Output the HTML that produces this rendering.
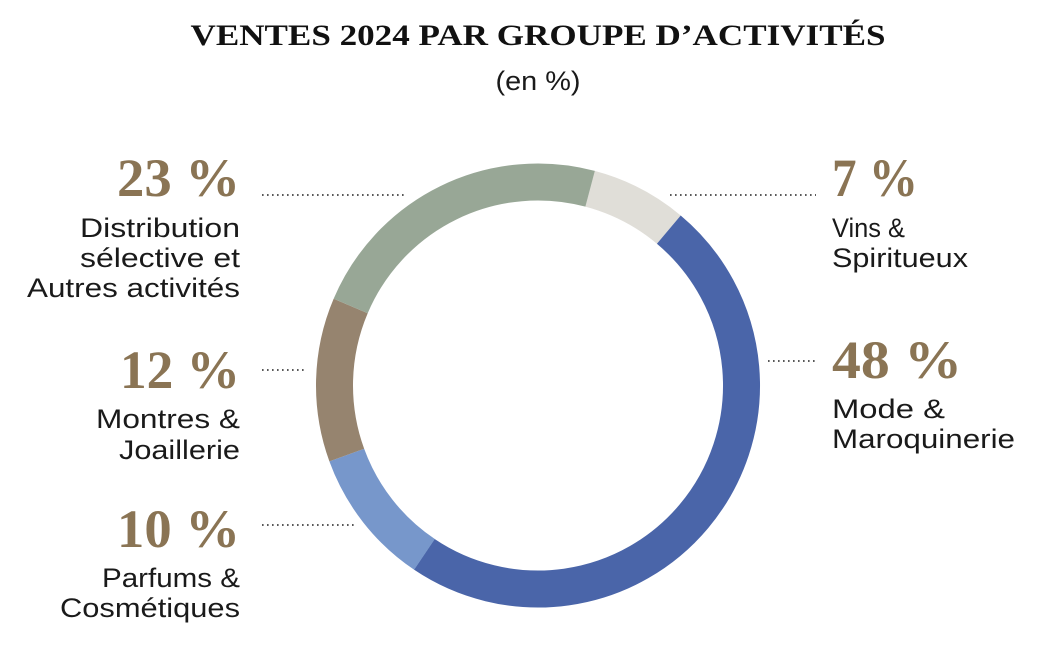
<!DOCTYPE html>
<html><head><meta charset="utf-8"><style>
html,body{margin:0;padding:0;background:#fff;}
svg{display:block;}
.t{font-family:"Liberation Serif",serif;font-weight:bold;fill:#111;}
.n{font-family:"Liberation Serif",serif;font-weight:bold;fill:#8a7454;font-size:54px;}
.l{font-family:"Liberation Sans",sans-serif;fill:#1a1a1a;font-size:27px;}
.d{stroke:#222;stroke-width:1.6;stroke-dasharray:1.6 3.4;}
</style></head><body>
<svg width="1040" height="668" viewBox="0 0 1040 668" xmlns="http://www.w3.org/2000/svg">
<text class="t" x="538" y="45" font-size="30" text-anchor="middle" textLength="695" lengthAdjust="spacingAndGlyphs">VENTES 2024 PAR GROUPE D’ACTIVITÉS</text>
<text class="l" x="538" y="90" font-size="26" text-anchor="middle" textLength="85" lengthAdjust="spacingAndGlyphs">(en %)</text>

<g fill="none" stroke-width="37">
<circle cx="538" cy="385.5" r="203.5" stroke="#e0ded8" stroke-dasharray="89.5 2000" transform="rotate(-75.2 538 385.5)"/>
<circle cx="538" cy="385.5" r="203.5" stroke="#4a65a9" stroke-dasharray="617.6 2000" transform="rotate(-50 538 385.5)"/>
<circle cx="538" cy="385.5" r="203.5" stroke="#7797cb" stroke-dasharray="128.2 2000" transform="rotate(123.9 538 385.5)"/>
<circle cx="538" cy="385.5" r="203.5" stroke="#96846f" stroke-dasharray="152.7 2000" transform="rotate(160 538 385.5)"/>
<circle cx="538" cy="385.5" r="203.5" stroke="#98a796" stroke-dasharray="290.5 2000" transform="rotate(203 538 385.5)"/>
</g>

<line class="d" x1="262" y1="195" x2="406" y2="195"/>
<line class="d" x1="262" y1="370" x2="307" y2="370"/>
<line class="d" x1="262" y1="525" x2="356" y2="525"/>
<line class="d" x1="670" y1="195" x2="816" y2="195"/>
<line class="d" x1="768" y1="361" x2="816" y2="361"/>

<g text-anchor="end">
<text class="n" x="240" y="196" textLength="123" lengthAdjust="spacingAndGlyphs">23 %</text>
<text class="l" x="240" y="237" textLength="160" lengthAdjust="spacingAndGlyphs">Distribution</text>
<text class="l" x="240" y="267" textLength="160" lengthAdjust="spacingAndGlyphs">sélective et</text>
<text class="l" x="240" y="297" textLength="213" lengthAdjust="spacingAndGlyphs">Autres activités</text>

<text class="n" x="240" y="388" textLength="120" lengthAdjust="spacingAndGlyphs">12 %</text>
<text class="l" x="240" y="428" textLength="144" lengthAdjust="spacingAndGlyphs">Montres &amp;</text>
<text class="l" x="240" y="459" textLength="121" lengthAdjust="spacingAndGlyphs">Joaillerie</text>

<text class="n" x="240" y="547" textLength="123" lengthAdjust="spacingAndGlyphs">10 %</text>
<text class="l" x="240" y="587" textLength="138" lengthAdjust="spacingAndGlyphs">Parfums &amp;</text>
<text class="l" x="240" y="617" textLength="180" lengthAdjust="spacingAndGlyphs">Cosmétiques</text>
</g>

<text class="n" x="832" y="196" textLength="86" lengthAdjust="spacingAndGlyphs">7 %</text>
<text class="l" x="832" y="237" textLength="73" lengthAdjust="spacingAndGlyphs">Vins &amp;</text>
<text class="l" x="832" y="267" textLength="136" lengthAdjust="spacingAndGlyphs">Spiritueux</text>

<text class="n" x="832" y="378" textLength="130" lengthAdjust="spacingAndGlyphs">48 %</text>
<text class="l" x="832" y="418" textLength="113" lengthAdjust="spacingAndGlyphs">Mode &amp;</text>
<text class="l" x="832" y="448" textLength="183" lengthAdjust="spacingAndGlyphs">Maroquinerie</text>
</svg>
</body></html>
